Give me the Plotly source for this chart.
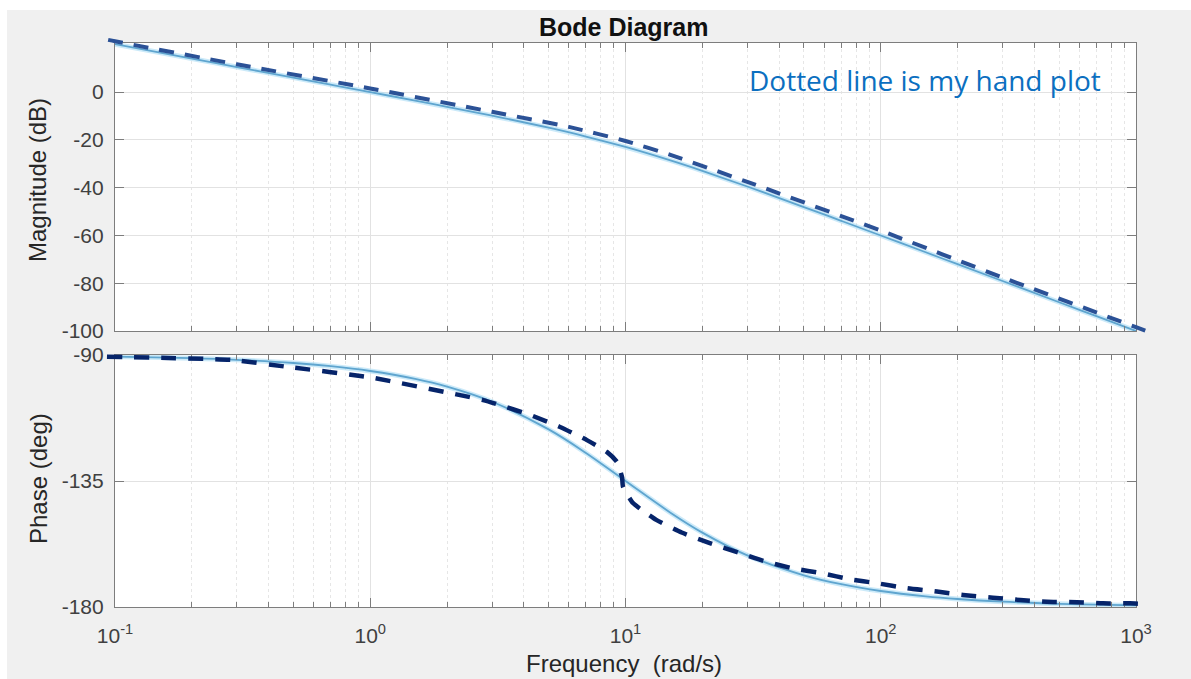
import plotly.graph_objects as go

W, H = 1191, 679

# ---- computed response (rad/s, dB, deg) ----
freq = [0.1, 0.2, 0.3, 0.5, 0.7, 1, 1.5, 2, 3, 5, 7, 10, 15, 20, 30, 50, 70,
        100, 150, 200, 300, 500, 700, 1000]
mag_db = [20.0, 13.98, 10.45, 6.01, 3.08, -0.04, -3.62, -6.19, -9.92, -14.95,
          -18.63, -23.01, -28.64, -33.01, -39.54, -48.13, -53.89, -60.04,
          -67.06, -72.05, -79.09, -87.96, -93.80, -100.0]
phase_deg = [-90.57, -91.15, -91.72, -92.86, -94.0, -95.71, -98.53, -101.31,
             -106.70, -116.57, -124.99, -135.0, -146.31, -153.43, -161.57,
             -168.69, -171.87, -174.29, -176.19, -177.14, -178.09, -178.85,
             -179.18, -179.43]

# ---- hand-drawn approximation ----
hand_mag_freq = [0.094, 0.1, 0.3, 1, 3, 6, 10, 15, 30, 100, 300, 1000, 1135]
hand_mag_db = [21.8, 21.2, 11.6, 1.5, -8.3, -14.6, -20.5, -26.3, -37.6, -58.0,
               -77.6, -98.4, -100.6]
hand_phase_freq = [0.093, 0.29, 0.47, 1, 2.77, 3.22, 4.23, 5.54, 7.06, 8.45,
                   9.26, 9.69, 9.78, 10.7, 11.6, 13.2, 16.6, 21.4, 28, 34.6,
                   45.3, 59.4, 75.7, 96.6, 127, 166, 210, 275, 352, 448, 587,
                   743, 947, 1020]
hand_phase_deg = [-90.6, -91.8, -94.2, -98.0, -106.1, -107.9, -111.4, -115.7,
                  -120.4, -124.6, -128.2, -133.6, -137.1, -142.9, -145.4,
                  -148.9, -153.4, -157.2, -160.7, -163.5, -166.2, -168.0,
                  -170.1, -171.5, -173.3, -174.5, -175.7, -176.7, -177.5,
                  -178.1, -178.3, -178.7, -178.7, -178.8]

x_major = [0.1, 1, 10, 100, 1000]
x_major_text = ["10<sup>-1</sup>", "10<sup>0</sup>", "10<sup>1</sup>",
                "10<sup>2</sup>", "10<sup>3</sup>"]
x_minor = [m * d for d in (0.1, 1, 10, 100) for m in range(2, 10)]
mag_ticks = [-100, -80, -60, -40, -20, 0]
mag_tick_text = ["-100", "-80", "-60", "-40", "-20", "0"]
phase_ticks = [-180, -135, -90]
phase_tick_text = ["-180", "-135", "-90"]

# ---- layout geometry (pixels) ----
AX_L, AX_R = 115, 1136
MAG_T, MAG_B = 43, 331
PH_T, PH_B = 355, 607
MAG_RANGE = [-100, 20.5]
PH_RANGE = [-180, -90]
X_RANGE = [-1, 3]

# wider, hidden frame so the hand-drawn curves may run past the axes box
OV_L, OV_R = 95, 1170
OV_MAG_T, OV_MAG_B = 25, 345
OV_PH_T, OV_PH_B = 345, 622


def xdom(a, b):
    return [a / W, b / W]


def ydom(top, bot):
    return [1 - bot / H, 1 - top / H]


def extend(rng, p_lo, p_hi, new_lo, new_hi):
    # stretch a linear range so that it keeps the same pixel scale
    s = (rng[1] - rng[0]) / (p_hi - p_lo)
    return [rng[0] - (p_lo - new_lo) * s, rng[1] + (new_hi - p_hi) * s]


ov_x = extend(X_RANGE, AX_L, AX_R, OV_L, OV_R)
ov_mag = extend(MAG_RANGE, H - MAG_B, H - MAG_T, H - OV_MAG_B, H - OV_MAG_T)
ov_ph = extend(PH_RANGE, H - PH_B, H - PH_T, H - OV_PH_B, H - OV_PH_T)

BOX = "#7d7d7d"
GRID = "#e2e2e2"
TICKFONT = dict(family="Liberation Sans, Arial, sans-serif", size=21, color="#404040")
SOLID = "#5fa5cf"
HALO = "rgba(170,220,245,0.6)"

fig = go.Figure()

# computed curves
for xa, ya, yv in (("x", "y", mag_db), ("x2", "y2", phase_deg)):
    fig.add_trace(go.Scatter(x=freq, y=yv, xaxis=xa, yaxis=ya, mode="lines",
                             line=dict(color=HALO, width=5, shape="spline"),
                             hoverinfo="skip", showlegend=False))
    fig.add_trace(go.Scatter(x=freq, y=yv, xaxis=xa, yaxis=ya, mode="lines",
                             line=dict(color=SOLID, width=1.8, shape="spline"),
                             showlegend=False))

# hand-drawn curves
fig.add_trace(go.Scatter(x=hand_mag_freq, y=hand_mag_db, xaxis="x3", yaxis="y3",
                         mode="lines",
                         line=dict(color="#2b5196", width=4, dash="15px,11px",
                                   shape="spline", smoothing=0.6),
                         showlegend=False))
fig.add_trace(go.Scatter(x=hand_phase_freq, y=hand_phase_deg, xaxis="x3", yaxis="y4",
                         mode="lines",
                         line=dict(color="#06246a", width=4.5, dash="15px,12px",
                                   shape="spline", smoothing=0.5),
                         showlegend=False))

common_x = dict(type="log", range=X_RANGE, domain=xdom(AX_L, AX_R),
                showline=True, linecolor=BOX, linewidth=1.2, mirror="ticks",
                ticks="inside", ticklen=9, tickcolor=BOX, tickwidth=1.2,
                tickmode="array", tickvals=x_major, ticktext=x_major_text,
                showgrid=True, gridcolor=GRID, gridwidth=1,
                minor=dict(tickmode="array", tickvals=x_minor, ticks="inside",
                           ticklen=5, tickcolor=BOX, showgrid=True,
                           gridcolor="#e6e6e6", griddash="dot", gridwidth=1),
                zeroline=False, fixedrange=True, tickfont=TICKFONT)

common_y = dict(showline=True, linecolor=BOX, linewidth=1.2, mirror="ticks",
                ticks="inside", ticklen=9, tickcolor=BOX, tickwidth=1.2,
                showgrid=True, gridcolor=GRID, gridwidth=1, zeroline=False,
                fixedrange=True, tickfont=TICKFONT, ticklabelstandoff=6)

fig.update_layout(
    width=W, height=H,
    margin=dict(l=0, r=0, t=0, b=0, autoexpand=False),
    paper_bgcolor="#f0f0f0",
    plot_bgcolor="rgba(0,0,0,0)",
    showlegend=False,
    xaxis=dict(common_x, anchor="y", showticklabels=False),
    yaxis=dict(common_y, anchor="x", domain=ydom(MAG_T, MAG_B), range=MAG_RANGE,
               tickmode="array", tickvals=mag_ticks, ticktext=mag_tick_text),
    xaxis2=dict(common_x, anchor="y2", showticklabels=True, ticklabelstandoff=10),
    yaxis2=dict(common_y, anchor="x2", domain=ydom(PH_T, PH_B), range=PH_RANGE,
                tickmode="array", tickvals=phase_ticks, ticktext=phase_tick_text),
    xaxis3=dict(type="log", range=ov_x, domain=xdom(OV_L, OV_R), visible=False,
                anchor="y3", fixedrange=True),
    yaxis3=dict(range=ov_mag, domain=ydom(OV_MAG_T, OV_MAG_B), visible=False,
                anchor="x3", fixedrange=True),
    yaxis4=dict(range=ov_ph, domain=ydom(OV_PH_T, OV_PH_B), visible=False,
                anchor="x3", fixedrange=True),
)

# white plotting areas and the white border of the figure window
for xr, yr in (("x domain", "y domain"), ("x2 domain", "y2 domain")):
    fig.add_shape(type="rect", xref=xr, yref=yr, x0=0, x1=1, y0=0, y1=1,
                  fillcolor="white", line_width=0, layer="below")
fig.add_shape(type="rect", xref="paper", yref="paper", x0=0, x1=1,
              y0=1 - 10 / H, y1=1, fillcolor="white", line_width=0, layer="below")
fig.add_shape(type="rect", xref="paper", yref="paper", x0=0, x1=7 / W,
              y0=0, y1=1, fillcolor="white", line_width=0, layer="below")

LABEL = dict(family="Liberation Sans, Arial, sans-serif", size=24, color="#262626")


def px_annot(text, px, py, font, **kw):
    fig.add_annotation(text=text, x=px / W, y=1 - py / H, xref="paper", yref="paper",
                       showarrow=False, font=font, xanchor="center", yanchor="middle", **kw)


px_annot("<b>Bode Diagram</b>", 623, 27,
         dict(family="Liberation Sans, Arial, sans-serif", size=25, color="#111111"))
px_annot("Magnitude (dB)", 38, 180, LABEL, textangle=-90)
px_annot("Phase (deg)", 38, 479, LABEL, textangle=-90)
px_annot("Frequency &nbsp;(rad/s)", 624, 663, LABEL)
px_annot("Dotted line is my hand plot", 925, 80,
         dict(family="Open Sans, Noto Sans, sans-serif", size=28, color="#0b6fc0"))

fig.write_html("out.html")
